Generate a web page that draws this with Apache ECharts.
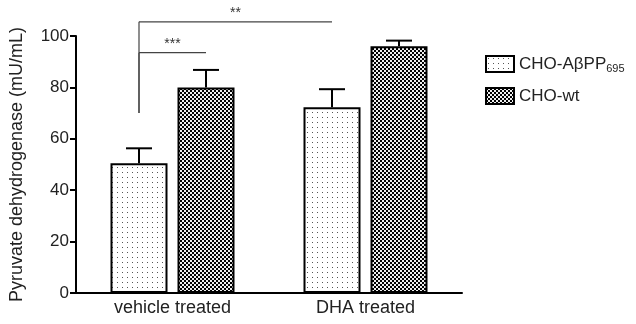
<!DOCTYPE html>
<html><head><meta charset="utf-8">
<script src="https://cdn.jsdelivr.net/npm/echarts@6/dist/echarts.min.js"></script>
<style>html,body{margin:0;padding:0;background:#fff}#c{width:636px;height:324px}</style>
</head><body><div id="c"></div>
<script>
const categories = ['vehicle treated', 'DHA treated'];
const seriesNames = ['CHO-AβPP', 'CHO-wt'];
const seriesSubs = ['695', ''];
const appValues = [50.5, 72.3];
const appSem = [5.8, 7.0];
const wtValues = [80.0, 96.0];
const wtSem = [6.8, 2.2];
const yTicks = [0, 20, 40, 60, 80, 100];
const sigLabels = ['***', '**'];
const sigLevels = [93.5, 105.5];
const sigFrom = [[0, 0], [0, 0]]; // [category, series]
const sigTo = [[0, 1], [1, 0]];
const sigDrop = 70;

const FONT = "'Liberation Sans', Arial, sans-serif";
const BAR_W = 57, BAR_GAP = 10;
const OFF = (BAR_W + BAR_GAP) / 2;

function dotPattern() {
  const c = document.createElement('canvas'); c.width = 5; c.height = 5;
  const g = c.getContext('2d');
  g.fillStyle = '#fff'; g.fillRect(0, 0, 5, 5);
  g.fillStyle = '#555'; g.fillRect(2, 2, 1, 1);
  return c;
}
function checkPattern() {
  const c = document.createElement('canvas'); c.width = 4; c.height = 4;
  const g = c.getContext('2d');
  g.fillStyle = '#eee'; g.fillRect(0, 0, 4, 4);
  g.fillStyle = '#000'; g.fillRect(0, 0, 2, 2); g.fillRect(2, 2, 2, 2);
  return c;
}

const chart = echarts.init(document.getElementById('c'), null, { renderer: 'canvas' });

function errSeries(values, sems, off) {
  return {
    type: 'custom', z: 5,
    data: values.map((v, i) => [i, v, sems[i]]),
    renderItem: function (params, api) {
      const cat = api.value(0), v = api.value(1), s = api.value(2);
      const b = api.coord([cat, v]), t = api.coord([cat, v + s]);
      const x = b[0] + off;
      return { type: 'group', children: [
        { type: 'line', shape: { x1: x, y1: b[1], x2: x, y2: t[1] }, style: { stroke: '#000', lineWidth: 2 } },
        { type: 'line', shape: { x1: x - 13, y1: t[1], x2: x + 13, y2: t[1] }, style: { stroke: '#000', lineWidth: 2 } }
      ] };
    }
  };
}

const option = {
  animation: false,
  backgroundColor: '#fff',
  textStyle: { fontFamily: FONT },
  grid: { left: 76, right: 174, top: 36, bottom: 31, containLabel: false, outerBoundsMode: 'none' },
  legend: {
    orient: 'vertical', left: 480, top: 50, itemWidth: 28, itemHeight: 16, itemGap: 13,
    icon: 'rect',
    data: seriesNames,
    formatter: function (name) {
      const i = seriesNames.indexOf(name);
      return seriesSubs[i] ? name + '{sub|' + seriesSubs[i] + '}' : name;
    },
    textStyle: { fontSize: 17, color: '#222', fontFamily: FONT,
      rich: { sub: { fontSize: 11, color: '#222', fontFamily: FONT, verticalAlign: 'bottom', padding: [9, 0, 0, 0] } } }
  },
  xAxis: {
    type: 'category', data: categories,
    axisLine: { lineStyle: { color: '#000', width: 2 } },
    axisTick: { alignWithLabel: true, length: 6, lineStyle: { color: '#000', width: 2 } },
    axisLabel: { fontSize: 18, color: '#222', margin: 6, fontFamily: FONT }
  },
  yAxis: {
    type: 'value', min: 0, max: 100, interval: 20,
    name: 'Pyruvate dehydrogenase (mU/mL)', nameLocation: 'middle', nameGap: 50,
    nameTextStyle: { fontSize: 18, color: '#222', fontFamily: FONT },
    axisLine: { show: true, lineStyle: { color: '#000', width: 2 } },
    axisTick: { show: true, length: 6, lineStyle: { color: '#000', width: 2 } },
    axisLabel: { fontSize: 17, color: '#222', margin: 7, fontFamily: FONT,
      formatter: v => yTicks.includes(v) ? String(v) : '' },
    splitLine: { show: false }
  },
  series: [
    { name: seriesNames[0], type: 'bar', data: appValues, barWidth: BAR_W, barGap: (BAR_GAP / BAR_W * 100) + '%', z: 3,
      itemStyle: { color: { image: dotPattern(), repeat: 'repeat' }, borderColor: '#000', borderWidth: 2 } },
    { name: seriesNames[1], type: 'bar', data: wtValues, barWidth: BAR_W, z: 3,
      itemStyle: { color: { image: checkPattern(), repeat: 'repeat' }, borderColor: '#000', borderWidth: 2 } },
    errSeries(appValues, appSem, -OFF),
    errSeries(wtValues, wtSem, OFF),
    {
      type: 'custom', z: 6, clip: false,
      data: sigLabels.map((t, i) => [0, sigLevels[i]]),
      renderItem: function (params, api) {
        const i = params.dataIndex;
        const xf = api.coord([sigFrom[i][0], 0])[0] + (sigFrom[i][1] === 0 ? -OFF : OFF);
        const xt = api.coord([sigTo[i][0], 0])[0] + (sigTo[i][1] === 0 ? -OFF : OFF);
        const y = api.coord([0, sigLevels[i]])[1];
        const yd = api.coord([0, sigDrop])[1];
        return { type: 'group', children: [
          { type: 'line', shape: { x1: xf, y1: y, x2: xt, y2: y }, style: { stroke: '#444', lineWidth: 1.2 } },
          { type: 'line', shape: { x1: xf, y1: y, x2: xf, y2: yd }, style: { stroke: '#444', lineWidth: 1.2 } },
          { type: 'text', x: (xf + xt) / 2, y: y - 2, style: { text: sigLabels[i], fill: '#333', font: '14px ' + FONT, textAlign: 'center', textVerticalAlign: 'bottom' } }
        ] };
      }
    }
  ]
};
chart.setOption(option);
</script></body></html>
